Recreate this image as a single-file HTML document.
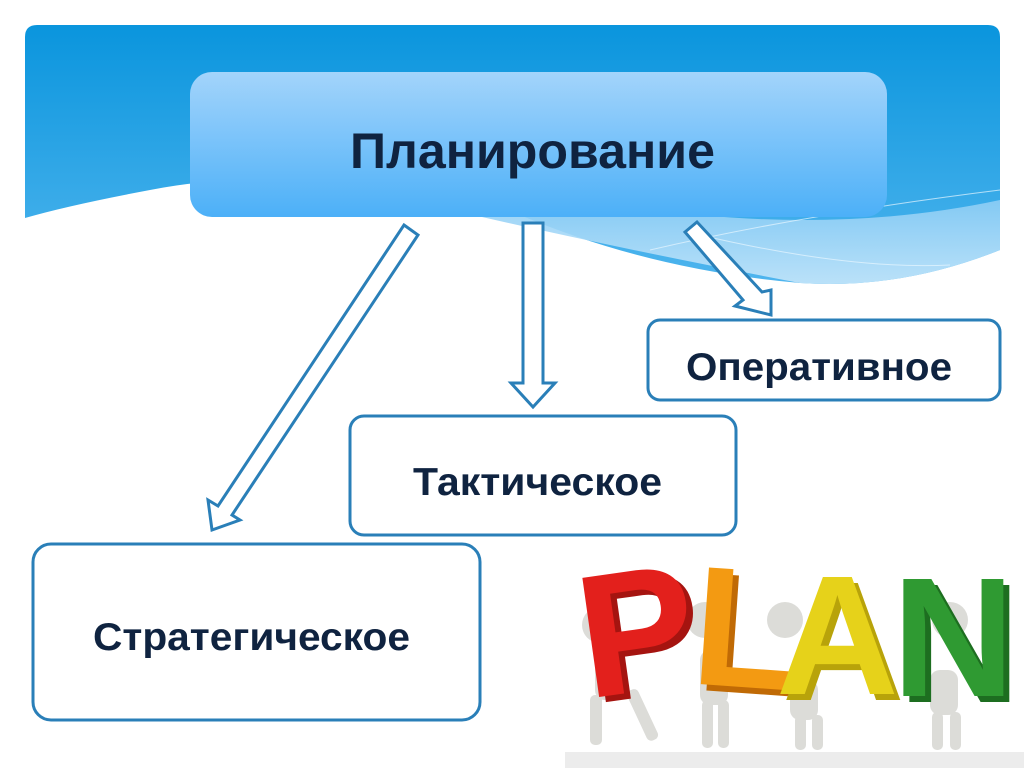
<!DOCTYPE html>
<html><head><meta charset="utf-8"><style>
html,body{margin:0;padding:0;background:#fff;width:1024px;height:768px;overflow:hidden}
svg{display:block}
text{font-family:"Liberation Sans",sans-serif;font-weight:bold;fill:#0f2340}
</style></head><body>
<svg width="1024" height="768" viewBox="0 0 1024 768" xmlns="http://www.w3.org/2000/svg">
<defs>
<linearGradient id="bg" x1="0" y1="0" x2="0" y2="1">
<stop offset="0" stop-color="#0a95dd"/><stop offset="1" stop-color="#4fb5ee"/></linearGradient>
<linearGradient id="bx" x1="0" y1="0" x2="0" y2="1">
<stop offset="0" stop-color="#a3d4fb"/><stop offset="1" stop-color="#4cb0f8"/></linearGradient>
<linearGradient id="wv" x1="0" y1="0" x2="0" y2="1">
<stop offset="0" stop-color="#8ccdf5"/><stop offset="1" stop-color="#c6e6fa"/></linearGradient>
</defs>
<path d="M37 25 H988 Q1000 25 1000 37 V250 Q900 290 800 283 Q650 270 520 215 Q300 160 150 190 Q70 205 25 218 V37 Q25 25 37 25 Z" fill="url(#bg)"/>
<path d="M430 205 Q600 245 800 283 Q900 290 1000 250 V200 Q860 230 700 215 Z" fill="url(#wv)" opacity="0.9"/>
<path d="M650 250 Q800 215 1000 190 M700 235 Q850 270 950 265" stroke="#e8f6ff" stroke-width="1" fill="none" opacity="0.7"/>
<rect x="190" y="72" width="697" height="145" rx="22" fill="url(#bx)"/>
<text x="350" y="168" font-size="50" textLength="365" lengthAdjust="spacingAndGlyphs">Планирование</text>
<g fill="#fff" stroke="#2a7fb8" stroke-width="3" stroke-linejoin="miter">
<polygon points="404,225 418,235 232,515 240,520 212,530 208,500 218,506"/>
<polygon points="523,223 543,223 543,383 555,383 533,407 511,383 523,383"/>
<polygon points="697,222 685,232 743,300 735,306 771,315 771,290 762,292"/>
</g>
<g fill="#fff" stroke="#2a7fb8" stroke-width="3">
<rect x="648" y="320" width="352" height="80" rx="12"/>
<rect x="350" y="416" width="386" height="119" rx="14"/>
<rect x="33" y="544" width="447" height="176" rx="18"/>
</g>
<text x="686" y="380" font-size="39" textLength="266" lengthAdjust="spacingAndGlyphs">Оперативное</text>
<text x="413" y="495" font-size="39" textLength="249" lengthAdjust="spacingAndGlyphs">Тактическое</text>
<text x="93" y="650" font-size="39" textLength="317" lengthAdjust="spacingAndGlyphs">Стратегическое</text>
<rect x="565" y="752" width="459" height="16" fill="#ececec"/>
<g fill="#dcdcd8">
<circle cx="600" cy="625" r="18"/><rect x="595" y="640" width="28" height="60" rx="10"/><rect x="590" y="695" width="12" height="50" rx="5"/><rect x="625" y="690" width="12" height="55" rx="5" transform="rotate(-25 631 690)"/>
<circle cx="705" cy="620" r="18"/><rect x="700" y="650" width="28" height="55" rx="10"/><rect x="702" y="700" width="11" height="48" rx="5"/><rect x="718" y="700" width="11" height="48" rx="5"/>
<circle cx="785" cy="620" r="18"/><rect x="790" y="680" width="28" height="40" rx="10"/><rect x="795" y="715" width="11" height="35" rx="5"/><rect x="812" y="715" width="11" height="35" rx="5"/>
<circle cx="950" cy="620" r="18"/><rect x="930" y="670" width="28" height="45" rx="10"/><rect x="932" y="712" width="11" height="38" rx="5"/><rect x="950" y="712" width="11" height="38" rx="5"/>
</g>
<g transform="rotate(-8 630 620)">
<text x="583" y="698" font-size="175" style="fill:#a51410">P</text>
<text x="577" y="692" font-size="175" style="fill:#e3201c">P</text></g>
<g transform="rotate(4 730 620)">
<text x="700" y="692" font-size="170" style="fill:#c06a05">L</text>
<text x="694" y="686" font-size="170" style="fill:#f39a12">L</text></g>
<text x="782" y="700" font-size="170" style="fill:#b8a30a">A</text>
<text x="776" y="694" font-size="170" style="fill:#e6d21a">A</text>
<text x="898" y="702" font-size="170" style="fill:#1d6e20">N</text>
<text x="892" y="696" font-size="170" style="fill:#2f9a32">N</text>
</svg>
</body></html>
